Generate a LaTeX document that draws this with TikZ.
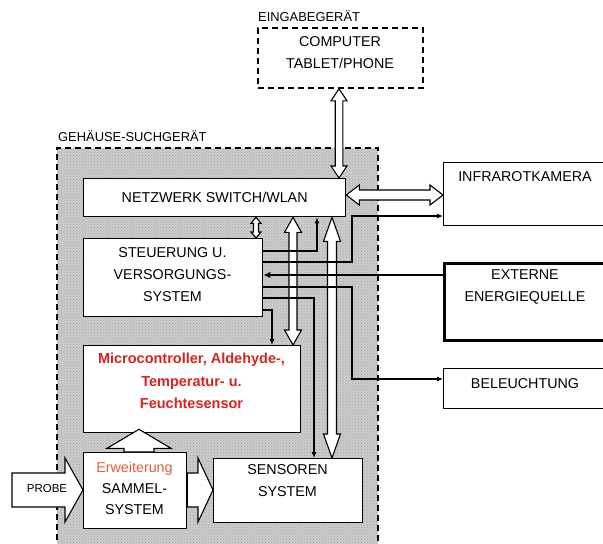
\documentclass[tikz,border=0pt]{standalone}
\usepackage{fontspec}
\setmainfont{Liberation Sans}
\usetikzlibrary{calc,arrows.meta,patterns}

\definecolor{redtext}{RGB}{214,36,30}
\definecolor{orangetext}{RGB}{232,92,62}
\definecolor{housing}{RGB}{204,204,204}

% hollow double-headed arrow: start, end, body half width, head half width, head length
\newcommand\HollowTwo[5]{%
  \filldraw[hollow] (#1)
    -- ($(#1)!#5!(#2)!#4!90:(#2)$)
    -- ($(#1)!#5!(#2)!#3!90:(#2)$)
    -- ($(#2)!#5!(#1)!#3!-90:(#1)$)
    -- ($(#2)!#5!(#1)!#4!-90:(#1)$)
    -- (#2)
    -- ($(#2)!#5!(#1)!#4!90:(#1)$)
    -- ($(#2)!#5!(#1)!#3!90:(#1)$)
    -- ($(#1)!#5!(#2)!#3!-90:(#2)$)
    -- ($(#1)!#5!(#2)!#4!-90:(#2)$)
    -- cycle;}

% hollow single-headed arrow: tail, tip, body half width, head half width, head length
\newcommand\HollowOne[5]{%
  \filldraw[hollow] ($(#1)!#3!90:(#2)$)
    -- ($(#2)!#5!(#1)!#3!-90:(#1)$)
    -- ($(#2)!#5!(#1)!#4!-90:(#1)$)
    -- (#2)
    -- ($(#2)!#5!(#1)!#4!90:(#1)$)
    -- ($(#2)!#5!(#1)!#3!90:(#1)$)
    -- ($(#1)!#3!-90:(#2)$)
    -- cycle;}

\begin{document}
\begin{tikzpicture}[x=1pt,y=-1pt,
  box/.style={draw, line width=1.3pt, fill=white, inner sep=0pt, anchor=north west},
  txt/.style={font=\fontsize{14.3}{22}\selectfont, align=center, inner sep=0pt},
  smalltxt/.style={font=\fontsize{12.9}{15}\selectfont, inner sep=0pt},
  conn/.style={line width=1.1pt, -{Latex[length=6pt,width=5pt]}},
  power/.style={line width=2.4pt, -{Latex[length=7pt,width=6.5pt]}},
  hollow/.style={draw, fill=white, line width=1.1pt, line join=miter},
  dashbox/.style={dash pattern=on 6pt off 4pt, line width=1.8pt},
]
\useasboundingbox (0,0) rectangle (603,544);
\clip (0,0) rectangle (603,544);

% columns and rows used by the connectors
\coordinate (cA) at (256,0);
\coordinate (cB) at (293,0);
\coordinate (cC) at (314,0);
\coordinate (cD) at (317,0);
\coordinate (cE) at (332,0);
\coordinate (cF) at (339,0);
\coordinate (cG) at (352,0);
\coordinate (cH) at (272,0);
\coordinate (cM) at (139,0);
\coordinate (rI) at (0,195);
\coordinate (rIr) at (0,216);
\coordinate (r1) at (0,251);
\coordinate (r2) at (0,262);
\coordinate (r3) at (0,275);
\coordinate (r4) at (0,287);
\coordinate (r5) at (0,298);
\coordinate (r6) at (0,310);
\coordinate (rB) at (0,379);
\coordinate (rP) at (0,490);

% input device
\node[box, fill=none, dashbox, minimum width=165pt, minimum height=60pt] (input) at (257,27) {};
\node[txt] (input-t) at (340,53) {COMPUTER\\TABLET/PHONE};
\node[smalltxt, anchor=west] (input-l) at (258,16) {EINGABEGERÄT};

% housing of the detector
\fill[housing] (57,148) rectangle (378,560);
\fill[pattern=crosshatch dots, pattern color=black!35] (57,148) rectangle (378,560);
\draw[dashbox] (57,560) -- (57,148) -- (378,148) -- (378,560);
\node[smalltxt, anchor=west] (house-l) at (58,136) {GEHÄUSE-SUCHGERÄT};

% blocks inside the housing
\node[box, minimum width=262pt, minimum height=38pt] (net) at (83,178) {};
\node[txt] (net-t) at (net.center) {NETZWERK SWITCH/WLAN};
\node[box, minimum width=179pt, minimum height=78pt] (steu) at (83,238) {};
\node[txt] (steu-t) at (172.5,275) {STEUERUNG U.\\VERSORGUNGS-\\SYSTEM};
\node[box, minimum width=217pt, minimum height=87pt] (micro) at (83,345) {};
\node[txt, text=redtext, font=\fontsize{14.5}{22.5}\selectfont\bfseries] (micro-t) at (191.5,381)
  {Microcontroller, Aldehyde-,\\Temperatur- u.\\Feuchtesensor};
\node[box, minimum width=103pt, minimum height=76pt] (sammel) at (83,452) {};
\node[txt, font=\fontsize{14.3}{21}\selectfont] (sammel-t) at (134.5,488) {\textcolor{orangetext}{Erweiterung}\\SAMMEL-\\SYSTEM};
\node[box, minimum width=149pt, minimum height=64pt] (sens) at (213,458) {};
\node[txt] (sens-t) at (287.5,481) {SENSOREN\\SYSTEM};

% external blocks
\node[box, minimum width=170pt, minimum height=63pt] (infra) at (443,162) {};
\node[txt] (infra-t) at (525,177) {INFRAROTKAMERA};
\node[box, line width=2.8pt, minimum width=170pt, minimum height=77pt] (ext) at (443,262) {};
\node[txt] (ext-t) at (525,287) {EXTERNE\\ENERGIEQUELLE};
\node[box, minimum width=170pt, minimum height=40pt] (bel) at (443,368) {};
\node[txt] (bel-t) at (525,384) {BELEUCHTUNG};

% data paths
\coordinate (ha1) at (input.south -| cF);
\coordinate (ha2) at (net.north -| cF);
\HollowTwo{ha1}{ha2}{3.8pt}{8pt}{12pt}
\coordinate (hb1) at (net.east |- rI);
\coordinate (hb2) at (infra.west |- rI);
\HollowTwo{hb1}{hb2}{5pt}{10pt}{13pt}
\coordinate (hc1) at (net.south -| cA);
\coordinate (hc2) at (steu.north -| cA);
\HollowTwo{hc1}{hc2}{2.5pt}{5pt}{6pt}
\coordinate (hd1) at (net.south -| cB);
\coordinate (hd2) at (micro.north -| cB);
\HollowTwo{hd1}{hd2}{4pt}{8.5pt}{15pt}
\coordinate (he1) at (net.south -| cE);
\coordinate (he2) at (sens.north -| cE);
\HollowTwo{he1}{he2}{4.5pt}{8.5pt}{24pt}

% sample flow
\coordinate (probe-tail) at (12,490);
\coordinate (hf2) at (sammel.west |- rP);
\HollowOne{probe-tail}{hf2}{17pt}{32pt}{18pt}
\node[font=\fontsize{11.5}{14}\selectfont, inner sep=0pt] (probe) at (47,489) {PROBE};
\coordinate (hg1) at (sammel.east |- rP);
\coordinate (hg2) at (sens.west |- rP);
\HollowOne{hg1}{hg2}{17pt}{32pt}{15pt}
\coordinate (hh1) at (sammel.north -| cM);
\coordinate (hh2) at ($(micro.south -| cM)+(0,-4)$);
\HollowOne{hh1}{hh2}{15pt}{32pt}{19pt}

% control and supply lines
\draw[conn] (steu.east |- r1) -| (net.south -| cD);
\draw[conn] (steu.east |- r2) -| (cG |- rIr) -- (infra.west |- rIr);
\draw[power] (ext.west |- r3) -- (steu.east |- r3);
\draw[conn] (steu.east |- r4) -| (cG |- rB) -- (bel.west |- rB);
\draw[conn] (steu.east |- r5) -| (sens.north -| cC);
\draw[conn] (steu.east |- r6) -| (micro.north -| cH);
\end{tikzpicture}
\end{document}
